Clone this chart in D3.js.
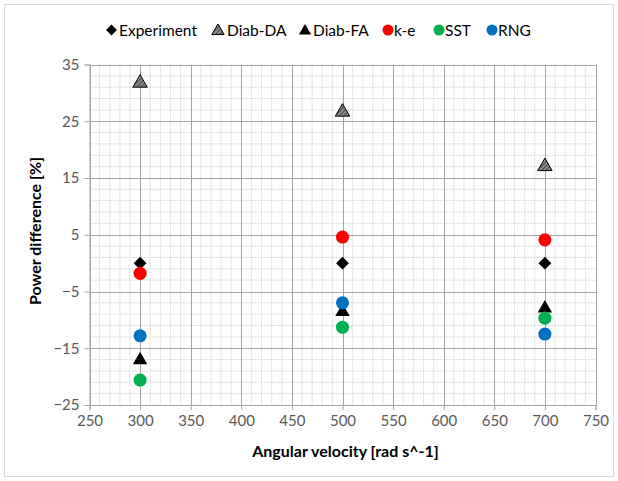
<!DOCTYPE html>
<html>
<head>
<meta charset="utf-8">
<script src="https://cdn.jsdelivr.net/npm/d3@7"></script>
<style>
  html, body { margin: 0; padding: 0; background: #fff; }
  svg { display: block; font-family: Lato, "Open Sans", sans-serif; }
</style>
</head>
<body>
<svg id="chart" width="618" height="481"></svg>
<script>
// Angular velocities at which each model was evaluated
const velocities = [300, 500, 700];

// Power difference [%] for each series
const experiment = [0, 0, 0];
const diabDA = [32.0, 26.9, 17.3];
const diabFA = [-16.8, -8.3, -7.7];
const kE = [-1.8, 4.6, 4.1];
const sst = [-20.6, -11.3, -9.7];
const rng = [-12.8, -7.0, -12.5];

const seriesNames = ["Experiment", "Diab-DA", "Diab-FA", "k-e", "SST", "RNG"];
const xTicks = [250, 300, 350, 400, 450, 500, 550, 600, 650, 700, 750];
const yTicks = [-25, -15, -5, 5, 15, 25, 35];

const series = [
  { name: seriesNames[0], values: experiment, shape: "diamond", fill: "#000" },
  { name: seriesNames[1], values: diabDA, shape: "triangle", fill: "url(#hatch)", stroke: "#000" },
  { name: seriesNames[2], values: diabFA, shape: "triangle", fill: "#000" },
  { name: seriesNames[3], values: kE, shape: "circle", fill: "#FF0000" },
  { name: seriesNames[4], values: sst, shape: "circle", fill: "#00B050" },
  { name: seriesNames[5], values: rng, shape: "circle", fill: "#0070C0" }
];

const svg = d3.select("#chart");
const W = 618, H = 481;
const plot = { left: 89.5, right: 595.5, top: 64.5, bottom: 405 };

// chart frame
svg.append("rect").attr("x", 4.5).attr("y", 4.5).attr("width", W - 9).attr("height", H - 9)
  .attr("fill", "#fff").attr("stroke", "#D9D9D9").attr("stroke-width", 1);

// hatched fill for the Diab-DA markers
const defs = svg.append("defs");
const pat = defs.append("pattern").attr("id", "hatch").attr("patternUnits", "userSpaceOnUse")
  .attr("width", 3).attr("height", 3).attr("patternTransform", "rotate(45)");
pat.append("rect").attr("width", 3).attr("height", 3).attr("fill", "#8C8C8C");
pat.append("line").attr("x1", 0).attr("y1", 0).attr("x2", 0).attr("y2", 3)
  .attr("stroke", "#303030").attr("stroke-width", 1.5);

const x = d3.scaleLinear().domain([250, 750]).range([plot.left, plot.right]);
const y = d3.scaleLinear().domain([-25, 35]).range([plot.bottom, plot.top]);

const grid = svg.append("g");
// minor gridlines
d3.range(250, 751, 10).filter(v => v % 50 !== 0).forEach(v => {
  grid.append("line").attr("x1", x(v)).attr("x2", x(v)).attr("y1", plot.top).attr("y2", plot.bottom)
    .attr("stroke", "#D9D9D9").attr("stroke-dasharray", "2,1").attr("stroke-width", 1);
});
d3.range(-25, 35.1, 2).filter(v => (v + 25) % 10 !== 0).forEach(v => {
  grid.append("line").attr("y1", y(v)).attr("y2", y(v)).attr("x1", plot.left).attr("x2", plot.right)
    .attr("stroke", "#D9D9D9").attr("stroke-dasharray", "2,1").attr("stroke-width", 1);
});
// major gridlines
xTicks.forEach(v => {
  grid.append("line").attr("x1", Math.round(x(v)) + 0.5).attr("x2", Math.round(x(v)) + 0.5)
    .attr("y1", plot.top).attr("y2", plot.bottom).attr("stroke", "#A6A6A6");
});
yTicks.forEach(v => {
  grid.append("line").attr("y1", Math.round(y(v)) + 0.5).attr("y2", Math.round(y(v)) + 0.5)
    .attr("x1", plot.left).attr("x2", plot.right).attr("stroke", "#A6A6A6");
});

// axes
const xAxis = d3.axisBottom(x).tickValues(xTicks).tickSize(5).tickPadding(5);
const yAxis = d3.axisLeft(y).tickValues(yTicks).tickSize(5).tickPadding(5);
const gx = svg.append("g").attr("transform", `translate(0,${plot.bottom})`).call(xAxis);
const gy = svg.append("g").attr("transform", `translate(${plot.left},0)`).call(yAxis);
[gx, gy].forEach(g => {
  g.select(".domain").attr("stroke", "#A6A6A6");
  g.selectAll(".tick line").attr("stroke", "#A6A6A6");
  g.selectAll(".tick text").attr("fill", "#595959").attr("font-size", 15)
    .attr("font-family", "Lato, 'Open Sans', sans-serif");
});

// axis titles
svg.append("text").attr("x", (plot.left + plot.right) / 2 + 3).attr("y", 457)
  .attr("text-anchor", "middle").attr("font-size", 16).attr("font-weight", "bold")
  .attr("fill", "#000").text("Angular velocity [rad s^-1]");
svg.append("text").attr("transform", `translate(41,231) rotate(-90)`)
  .attr("text-anchor", "middle").attr("font-size", 16).attr("font-weight", "bold")
  .attr("fill", "#000").text("Power difference [%]");

// marker shapes
const shapes = {
  diamond: d3.symbol().type(d3.symbolDiamond2).size(105),
  triangle: d3.symbol().type(d3.symbolTriangle).size(90),
  circle: d3.symbol().type(d3.symbolCircle).size(135)
};

const marks = svg.append("g");
series.forEach(s => {
  marks.selectAll(null).data(s.values.map((v, i) => [velocities[i], v])).enter()
    .append("path")
    .attr("d", shapes[s.shape])
    .attr("transform", d => `translate(${x(d[0])},${y(d[1]) + (s.shape === "triangle" ? 1.5 : 0)})`)
    .attr("fill", s.fill)
    .attr("stroke", s.stroke || "none")
    .attr("stroke-width", 1);
});

// legend
const legendItems = [
  { mx: 111.5, tx: 119 },
  { mx: 218, tx: 227 },
  { mx: 305, tx: 313 },
  { mx: 388, tx: 394 },
  { mx: 439, tx: 445 },
  { mx: 492, tx: 498 }
];
const legendShapes = {
  diamond: d3.symbol().type(d3.symbolDiamond2).size(75),
  triangle: d3.symbol().type(d3.symbolTriangle).size(65),
  circle: d3.symbol().type(d3.symbolCircle).size(95)
};
const lg = svg.append("g");
series.forEach((s, i) => {
  lg.append("path").attr("d", legendShapes[s.shape])
    .attr("transform", `translate(${legendItems[i].mx},${30 + (s.shape === "triangle" ? 1 : 0)})`)
    .attr("fill", s.fill).attr("stroke", s.stroke || "none");
  lg.append("text").attr("x", legendItems[i].tx).attr("y", 35.5).attr("font-size", 15.5)
    .attr("fill", "#000").text(s.name);
});
</script>
</body>
</html>
